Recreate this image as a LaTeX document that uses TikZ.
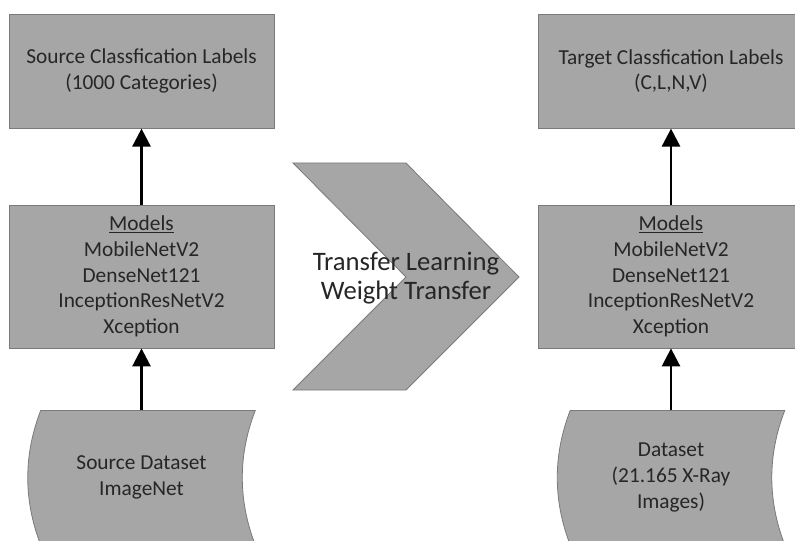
\documentclass[tikz,border=0pt]{standalone}
\usepackage{fontspec}
\setmainfont{Carlito}
\usetikzlibrary{arrows.meta,positioning,calc,backgrounds}
\definecolor{boxgray}{HTML}{A6A6A6}
\definecolor{edgegray}{HTML}{7A7A7A}
\definecolor{txtgray}{HTML}{262626}

\begin{document}
\begin{tikzpicture}[
    x=0.75pt, y=-0.75pt,
    node distance=57pt,
    txt/.style={align=center, text=txtgray, font=\fontsize{16}{19.3}\selectfont},
    labelbox/.style={txt, rectangle, draw=edgegray, fill=boxgray, line width=0.6pt, minimum width=198.75pt, minimum height=85.5pt},
    modelbox/.style={labelbox, minimum height=107.25pt},
    databox/.style={txt, minimum width=170.25pt, minimum height=100.5pt},
    datashape/.style={draw=edgegray, fill=boxgray, line width=0.6pt},
    flow/.style={-{Triangle[width=13.5pt,length=13.5pt]}, line width=2pt, black}
]
    \useasboundingbox (0,0) rectangle (795,541);
    \clip (0,0) rectangle (795,541);

    % Source side
    \node[modelbox] (srcmod) at (141.5,276.5) {\underline{Models}\\MobileNetV2\\DenseNet121\\InceptionResNetV2\\Xception};
    \node[labelbox, above=of srcmod] (srclab) {Source Classfication Labels\\(1000 Categories)};
    \node[databox, below=46.5pt of srcmod] (srcdata) {Source Dataset\\ImageNet};

    % Target side
    \node[modelbox] (tgtmod) at (671,276.5) {\underline{Models}\\MobileNetV2\\DenseNet121\\InceptionResNetV2\\Xception};
    \node[labelbox, above=of tgtmod] (tgtlab) {Target Classfication Labels\\(C,L,N,V)};
    \node[databox, below=46.5pt of tgtmod] (tgtdata) {Dataset\\(21.165 X-Ray\\Images)};

    % Stored data shapes
    \begin{scope}[on background layer]
    \foreach \d in {srcdata, tgtdata} {
        \path[datashape] ($(\d.north west)+(13,0)$) -- (\d.north east)
            .. controls +(-17.3,44.7) and +(-17.3,-44.7) .. (\d.south east)
            -- ($(\d.south west)+(13,0)$)
            .. controls +(-17.3,-44.7) and +(-17.3,44.7) .. ($(\d.north west)+(13,0)$) -- cycle;
    }
    \end{scope}

    % Transfer chevron
    \path[datashape] (293,163) -- (406,163) -- (519,277) -- (406,390) -- (293,390) -- (406,277) -- cycle;
    \node[txt, font=\fontsize{20}{21.5}\selectfont] (xfer) at (406,278) {Transfer Learning\\Weight Transfer};

    % Arrows
    \draw[flow] (srcdata.north) -- (srcmod.south);
    \draw[flow] (srcmod.north) -- (srclab.south);
    \draw[flow] (tgtdata.north) -- (tgtmod.south);
    \draw[flow] (tgtmod.north) -- (tgtlab.south);
\end{tikzpicture}
\end{document}
